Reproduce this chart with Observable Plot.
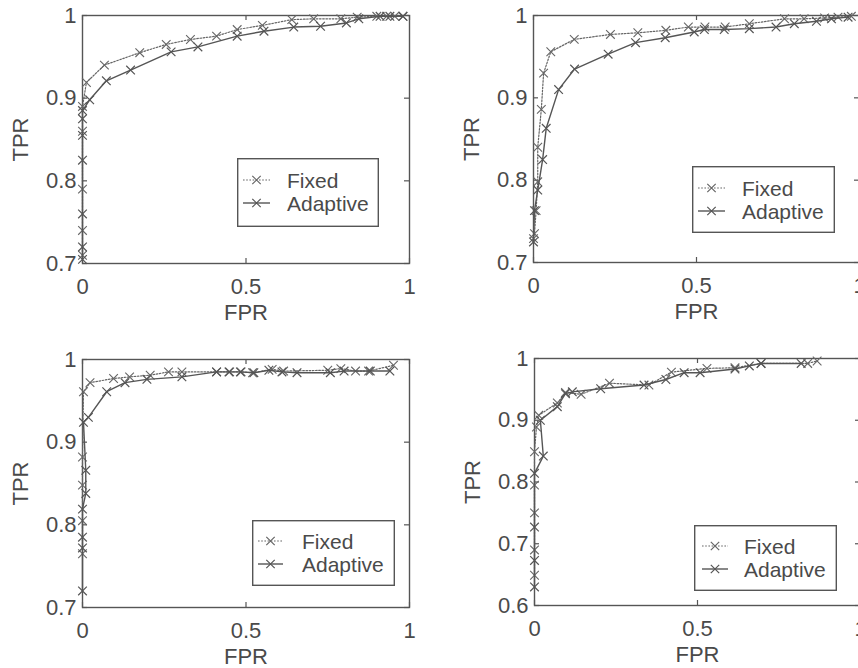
<!DOCTYPE html>
<html><head><meta charset="utf-8">
<script src="https://cdn.jsdelivr.net/npm/d3@7"></script>
<script src="https://cdn.jsdelivr.net/npm/@observablehq/plot@0.6"></script>
<style>
html,body{margin:0;padding:0;background:#fff;overflow:hidden;width:858px;height:668px}
#wrap{position:relative;width:858px;height:668px;overflow:hidden;background:#fff}
.panel{position:absolute}
.legend{position:absolute}
</style></head>
<body><div id="wrap"></div>
<script>
// ---------- data ----------
const xTicks = [0, 0.5, 1];
const yTicksA = [0.7, 0.8, 0.9, 1];
const yTicksB = [0.6, 0.7, 0.8, 0.9, 1];
const seriesNames = ["Fixed", "Adaptive"];

// top-left panel
const tlFixedFPR = [0, 0, 0, 0, 0, 0.012, 0.067, 0.175, 0.256, 0.33, 0.41, 0.473, 0.55, 0.64, 0.707, 0.79, 0.84, 0.9, 0.93, 0.955, 0.98];
const tlFixedTPR = [0.71, 0.74, 0.79, 0.86, 0.89, 0.919, 0.94, 0.955, 0.965, 0.971, 0.975, 0.983, 0.988, 0.995, 0.996, 0.996, 0.998, 0.999, 0.999, 0.999, 0.999];
const tlAdaptFPR = [0, 0, 0, 0, 0, 0, 0, 0.022, 0.073, 0.147, 0.271, 0.353, 0.473, 0.555, 0.646, 0.728, 0.807, 0.845, 0.91, 0.94, 0.98];
const tlAdaptTPR = [0.705, 0.72, 0.76, 0.825, 0.855, 0.875, 0.885, 0.898, 0.921, 0.934, 0.956, 0.962, 0.975, 0.981, 0.986, 0.987, 0.991, 0.996, 0.999, 0.999, 0.999];

// top-right panel
const trFixedFPR = [0, 0.003, 0.008, 0.013, 0.013, 0.024, 0.031, 0.053, 0.125, 0.236, 0.32, 0.406, 0.475, 0.526, 0.588, 0.662, 0.77, 0.83, 0.893, 0.934, 0.975];
const trFixedTPR = [0.729, 0.735, 0.763, 0.798, 0.84, 0.886, 0.93, 0.956, 0.971, 0.977, 0.979, 0.982, 0.986, 0.986, 0.986, 0.99, 0.996, 0.996, 0.997, 0.998, 0.999];
const trAdaptFPR = [0, 0.003, 0.013, 0.028, 0.039, 0.077, 0.126, 0.229, 0.313, 0.404, 0.493, 0.524, 0.585, 0.662, 0.744, 0.8, 0.868, 0.914, 0.965];
const trAdaptTPR = [0.725, 0.763, 0.788, 0.825, 0.863, 0.91, 0.935, 0.953, 0.967, 0.973, 0.98, 0.983, 0.983, 0.984, 0.986, 0.99, 0.993, 0.996, 0.998];

// bottom-left panel
const blFixedFPR = [0, 0, 0, 0, 0.003, 0.023, 0.095, 0.144, 0.207, 0.263, 0.304, 0.41, 0.45, 0.485, 0.52, 0.58, 0.615, 0.75, 0.79, 0.835, 0.875, 0.951];
const blFixedTPR = [0.765, 0.805, 0.848, 0.882, 0.961, 0.972, 0.977, 0.979, 0.981, 0.985, 0.985, 0.985, 0.985, 0.985, 0.984, 0.988, 0.986, 0.987, 0.989, 0.986, 0.986, 0.993];
const blAdaptFPR = [0, 0, 0, 0, 0.01, 0.01, 0.003, 0.018, 0.074, 0.13, 0.197, 0.304, 0.41, 0.448, 0.483, 0.524, 0.57, 0.61, 0.656, 0.758, 0.8, 0.88, 0.94];
const blAdaptTPR = [0.72, 0.772, 0.785, 0.819, 0.838, 0.866, 0.924, 0.93, 0.961, 0.972, 0.976, 0.979, 0.985, 0.985, 0.985, 0.984, 0.987, 0.985, 0.984, 0.984, 0.986, 0.986, 0.986];

// bottom-right panel
const brFixedFPR = [0, 0, 0, 0, 0, 0.006, 0.013, 0.07, 0.095, 0.143, 0.23, 0.351, 0.42, 0.529, 0.615, 0.695, 0.838, 0.867];
const brFixedTPR = [0.649, 0.69, 0.75, 0.795, 0.849, 0.889, 0.908, 0.928, 0.945, 0.942, 0.96, 0.957, 0.978, 0.984, 0.985, 0.992, 0.992, 0.996];
const brAdaptFPR = [0, 0, 0, 0, 0.027, 0.018, 0.07, 0.095, 0.116, 0.203, 0.336, 0.403, 0.459, 0.508, 0.615, 0.659, 0.695, 0.818];
const brAdaptTPR = [0.63, 0.673, 0.727, 0.814, 0.842, 0.9, 0.922, 0.943, 0.946, 0.951, 0.957, 0.966, 0.977, 0.977, 0.983, 0.988, 0.992, 0.992];

// ---------- style ----------
const FONT = '"Liberation Sans", Arial, Helvetica, sans-serif';
const INK = "#4a4a4a";
const LINE = "#555";
const FIXED_DASH = "1.6,1.6";

const panels = [
  {left: 0, top: 0, height: 334, mR: 21, fFPR: tlFixedFPR, fTPR: tlFixedTPR, aFPR: tlAdaptFPR, aTPR: tlAdaptTPR, yDomain: [0.7, 1], yTicks: yTicksA,
   legend: {left: 237, top: 158, w: 142, h: 69, r1: 22, r2: 45, s0: 6, s1: 33, tx: 50}},
  {left: 451, top: 0, height: 333, mR: 22, fFPR: trFixedFPR, fTPR: trFixedTPR, aFPR: trAdaptFPR, aTPR: trAdaptTPR, yDomain: [0.7, 1], yTicks: yTicksA,
   legend: {left: 692, top: 166, w: 143, h: 67, r1: 22, r2: 45, s0: 6, s1: 33, tx: 50}},
  {left: 0, top: 344, height: 334, mR: 21, fFPR: blFixedFPR, fTPR: blFixedTPR, aFPR: blAdaptFPR, aTPR: blAdaptTPR, yDomain: [0.7, 1], yTicks: yTicksA,
   legend: {left: 252, top: 520, w: 143, h: 66, r1: 21, r2: 44, s0: 6, s1: 31, tx: 50}},
  {left: 452, top: 343, height: 333, mR: 22, fFPR: brFixedFPR, fTPR: brFixedTPR, aFPR: brAdaptFPR, aTPR: brAdaptTPR, yDomain: [0.6, 1], yTicks: yTicksB,
   legend: {left: 694, top: 525, w: 143, h: 66, r1: 21, r2: 44, s0: 8, s1: 34, tx: 50}}
];

const wrap = document.getElementById("wrap");

function build(cfg) {
  const fixed = cfg.fFPR.map((x, i) => ({x, y: cfg.fTPR[i]}));
  const adaptive = cfg.aFPR.map((x, i) => ({x, y: cfg.aTPR[i]}));
  const W = 430, H = cfg.height, mT = 15, mB = 71, mL = 82, mR = cfg.mR;
  const fh = H - mT - mB, fw = W - mL - mR, tl = 5;
  const plot = Plot.plot({
    width: W, height: H, marginTop: mT, marginBottom: mB, marginLeft: mL, marginRight: mR,
    style: {fontFamily: FONT, fontSize: "22px", color: INK, background: "transparent", overflow: "visible"},
    x: {domain: [0, 1]},
    y: {domain: cfg.yDomain},
    marks: [
      Plot.tickX(xTicks, {x: d => d, insetTop: fh - tl, stroke: LINE, strokeWidth: 1.2}),
      Plot.tickX(xTicks, {x: d => d, insetBottom: fh - tl, stroke: LINE, strokeWidth: 1.2}),
      Plot.tickY(cfg.yTicks, {y: d => d, insetRight: fw - tl, stroke: LINE, strokeWidth: 1.2}),
      Plot.tickY(cfg.yTicks, {y: d => d, insetLeft: fw - tl, stroke: LINE, strokeWidth: 1.2}),
      Plot.frame({stroke: LINE, strokeWidth: 1.4}),
      Plot.axisX({ticks: xTicks, tickSize: 0, tickPadding: 15, tickFormat: d => String(d), fill: INK,
        label: "FPR", labelAnchor: "center", labelOffset: 56, labelArrow: "none"}),
      Plot.axisY({ticks: cfg.yTicks, tickSize: 0, tickPadding: 6, tickFormat: d => String(d), fill: INK,
        label: "TPR", labelAnchor: "center", labelOffset: 70, labelArrow: "none"}),
      Plot.line(fixed, {x: "x", y: "y", stroke: "#666", strokeWidth: 1.2, strokeDasharray: FIXED_DASH}),
      Plot.dot(fixed, {x: "x", y: "y", symbol: "times", r: 4, stroke: "#666", strokeWidth: 1.1}),
      Plot.line(adaptive, {x: "x", y: "y", stroke: LINE, strokeWidth: 1.4}),
      Plot.dot(adaptive, {x: "x", y: "y", symbol: "times", r: 4, stroke: LINE, strokeWidth: 1.2})
    ]
  });
  plot.classList.add("panel");
  plot.style.left = cfg.left + "px";
  plot.style.top = cfg.top + "px";
  wrap.appendChild(plot);

  // legend
  const L = cfg.legend;
  const svg = d3.select(wrap).append("svg").attr("class", "legend")
    .attr("width", L.w).attr("height", L.h)
    .style("left", L.left + "px").style("top", L.top + "px");
  svg.append("rect").attr("x", 0.7).attr("y", 0.7).attr("width", L.w - 1.4).attr("height", L.h - 1.4)
    .attr("fill", "#fff").attr("stroke", LINE).attr("stroke-width", 1.4);
  const rows = [L.r1, L.r2];
  seriesNames.forEach((name, i) => {
    const y = rows[i];
    const dashed = i === 0;
    const col = dashed ? "#666" : LINE;
    svg.append("line").attr("x1", L.s0).attr("x2", L.s1).attr("y1", y).attr("y2", y)
      .attr("stroke", col).attr("stroke-width", dashed ? 1.2 : 1.4)
      .attr("stroke-dasharray", dashed ? FIXED_DASH : null);
    const cx = (L.s0 + L.s1) / 2, s = 4.2;
    svg.append("path").attr("d", `M${cx - s},${y - s}L${cx + s},${y + s}M${cx - s},${y + s}L${cx + s},${y - s}`)
      .attr("stroke", col).attr("stroke-width", 1.2).attr("fill", "none");
    svg.append("text").attr("x", L.tx).attr("y", y).attr("dy", "0.36em")
      .attr("font-family", FONT).attr("font-size", 21).attr("fill", INK).text(name);
  });
}

panels.forEach(build);
</script>
</body></html>
